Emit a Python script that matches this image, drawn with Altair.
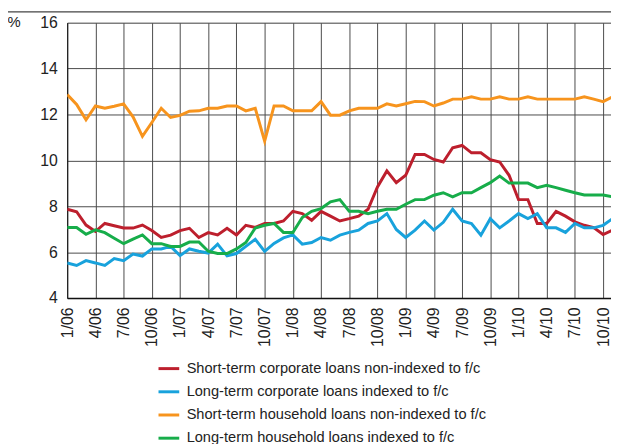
import altair as alt
import pandas as pd

series_names = [
    "Short-term corporate loans non-indexed to f/c",
    "Long-term corporate loans indexed to f/c",
    "Short-term household loans non-indexed to f/c",
    "Long-term household loans indexed to f/c",
]
series_colors = ["#BD1F2D", "#18A2DC", "#F7941D", "#17AD4A"]

tick_labels = ["1/06", "4/06", "7/06", "10/06", "1/07", "4/07", "7/07", "10/07",
               "1/08", "4/08", "7/08", "10/08", "1/09", "4/09", "7/09", "10/09",
               "1/10", "4/10", "7/10", "10/10"]

# monthly index: 0 = Jan 2006
months = list(range(59))

short_corp = [7.87, 7.76, 7.18, 6.90, 7.25, 7.15, 7.05, 7.05, 7.18, 6.94,
              6.64, 6.74, 6.94, 7.04, 6.64, 6.85, 6.75, 7.04, 6.75, 7.17,
              7.08, 7.25, 7.25, 7.36, 7.78, 7.68, 7.39, 7.78, 7.57, 7.36,
              7.46, 7.57, 7.87, 8.84, 9.54, 9.03, 9.35, 10.26, 10.26, 10.04,
              9.93, 10.55, 10.65, 10.33, 10.33, 10.03, 9.93, 9.35, 8.29, 8.29,
              7.25, 7.25, 7.78, 7.57, 7.32, 7.17, 7.07, 6.77, 6.96]
long_corp = [5.53, 5.42, 5.63, 5.53, 5.42, 5.72, 5.63, 5.92, 5.83, 6.14,
             6.14, 6.25, 5.85, 6.14, 6.04, 5.96, 6.35, 5.84, 5.94, 6.25,
             6.56, 6.03, 6.38, 6.62, 6.75, 6.35, 6.42, 6.64, 6.52, 6.74,
             6.86, 6.96, 7.25, 7.36, 7.68, 6.99, 6.64, 6.96, 7.36, 6.96,
             7.30, 7.87, 7.36, 7.25, 6.74, 7.46, 7.06, 7.36, 7.68, 7.46,
             7.68, 7.06, 7.06, 6.86, 7.25, 7.06, 7.06, 7.17, 7.46]
short_hh = [12.87, 12.44, 11.77, 12.37, 12.27, 12.36, 12.46, 11.90, 11.05, 11.65,
            12.27, 11.87, 11.96, 12.14, 12.16, 12.27, 12.27, 12.37, 12.37, 12.16,
            12.27, 10.84, 12.37, 12.37, 12.16, 12.16, 12.16, 12.56, 11.97, 11.97,
            12.16, 12.27, 12.27, 12.27, 12.46, 12.37, 12.47, 12.57, 12.56, 12.37,
            12.50, 12.67, 12.67, 12.77, 12.67, 12.67, 12.77, 12.67, 12.67, 12.77,
            12.67, 12.67, 12.67, 12.67, 12.67, 12.77, 12.67, 12.56, 12.77]
long_hh = [7.07, 7.07, 6.78, 6.97, 6.85, 6.61, 6.37, 6.57, 6.75, 6.37,
           6.37, 6.25, 6.25, 6.44, 6.44, 6.04, 5.94, 5.94, 6.14, 6.42,
           7.05, 7.17, 7.25, 6.86, 6.86, 7.51, 7.78, 7.90, 8.19, 8.29,
           7.78, 7.78, 7.68, 7.78, 7.87, 7.87, 8.09, 8.29, 8.29, 8.48,
           8.59, 8.41, 8.59, 8.59, 8.81, 9.03, 9.32, 9.01, 9.01, 9.01,
           8.81, 8.91, 8.81, 8.70, 8.59, 8.49, 8.49, 8.49, 8.41]

rows = []
for name, vals in zip(series_names, [short_corp, long_corp, short_hh, long_hh]):
    for m, v in zip(months, vals):
        rows.append({"month": m, "series": name, "value": v})
df = pd.DataFrame(rows)

label_expr = "[" + ",".join("'" + t + "'" for t in tick_labels) + "][round(datum.value/3)]"

NUM_FONT = "Liberation Sans"

lines = alt.Chart(df).mark_line(strokeWidth=3, clip=True).encode(
    x=alt.X("month:Q",
            scale=alt.Scale(domain=[0, 57.84], nice=False, zero=False),
            axis=alt.Axis(values=list(range(0, 58, 3)), labelExpr=label_expr,
                          labelAngle=270, labelAlign="right", labelBaseline="middle",
                          labelPadding=9, labelFontSize=16, labelFont=NUM_FONT,
                          labelColor="#222", ticks=False, grid=True,
                          gridColor="#4a4a4a", gridWidth=1,
                          domainColor="#111", domainWidth=1.5, title=None)),
    y=alt.Y("value:Q",
            scale=alt.Scale(domain=[4, 16], nice=False, zero=False),
            axis=alt.Axis(values=[4, 6, 8, 10, 12, 14, 16], ticks=False,
                          labelPadding=10, labelFontSize=16, labelFont=NUM_FONT,
                          labelColor="#222", grid=True, gridColor="#4a4a4a",
                          gridWidth=1, domainColor="#111", domainWidth=1,
                          title="%", titleAngle=0, titleX=-61, titleY=4,
                          titleAlign="left", titleBaseline="alphabetic",
                          titleFontSize=15, titleFontWeight="normal",
                          titleFont=NUM_FONT, titleColor="#222")),
    color=alt.Color("series:N",
                    scale=alt.Scale(domain=series_names, range=series_colors),
                    sort=series_names,
                    legend=alt.Legend(orient="none", legendX=91, legendY=338.5,
                                      title=None, symbolType="stroke",
                                      symbolSize=441, symbolStrokeWidth=3,
                                      labelFont=NUM_FONT, labelFontSize=14.8,
                                      labelColor="#222", labelOffset=6,
                                      rowPadding=4.5, padding=0, labelLimit=400)),
    order=alt.Order("month:Q"),
)

top_rule = alt.Chart(pd.DataFrame({"k": [0]})).mark_rule(
    color="#444", strokeWidth=1.2
).encode(x=alt.value(-60), x2=alt.value(551), y=alt.value(-11))

chart = alt.layer(top_rule, lines).properties(
    width=551, height=279,
    autosize=alt.AutoSizeParams(type="none"),
    padding={"left": 60, "top": 12, "right": 0, "bottom": 145},
).configure_view(stroke=None).configure(background="white")

chart.save("out.html", embed_options={"renderer": "svg", "actions": False})
